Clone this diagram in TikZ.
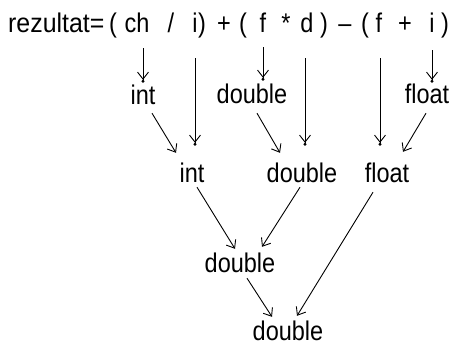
\documentclass[tikz,border=0pt]{standalone}
\usepackage{fontspec}
\setmainfont{Liberation Sans}
\usetikzlibrary{arrows.meta,calc}
\newcommand\tallt[1]{\scalebox{1}[1.15]{#1}}
\begin{document}
\begin{tikzpicture}[x=1pt,y=1pt,
  lbl/.style={font=\fontsize{23.5}{26}\selectfont, inner sep=0pt, text height=17pt, text depth=0pt, anchor=base},
  tok/.style={lbl, text depth=5pt},
  arr/.style={line width=0.9pt, -{Straight Barb[length=7pt,width=11pt]}},
  darr/.style={line width=0.9pt, -{Straight Barb[length=7pt,width=11pt] Circle[length=3pt,sep=-3pt]}}]
\useasboundingbox (0,0) rectangle (454,-345);
% top expression
\node[tok,anchor=base west] (lhs) at (8,-33) {\scalebox{1.06}[1.15]{rezultat=}};
\node[tok] (p1) at (113,-33) {\tallt{(}};
\node[tok] (ch) at (137,-33) {\tallt{ch}};
\node[tok] (div) at (171,-33) {\tallt{/}};
\node[tok] (i1) at (195,-33) {\tallt{i}};
\node[tok] (p2) at (202,-33) {\tallt{)}};
\node[tok] (plus1) at (224,-33) {\tallt{+}};
\node[tok] (p3) at (243,-33) {\tallt{(}};
\node[tok] (f1) at (263,-33) {\tallt{f}};
\node[tok] (mul) at (286,-33) {\tallt{*}};
\node[tok] (d) at (307,-33) {\tallt{d}};
\node[tok] (p4) at (324,-33) {\tallt{)}};
\node[tok] (minus) at (345,-33) {\tallt{–}};
\node[tok] (p5) at (365,-33) {\tallt{(}};
\node[tok] (f2) at (379,-33) {\tallt{f}};
\node[tok] (plus2) at (405,-33) {\tallt{+}};
\node[tok] (i2) at (432,-33) {\tallt{i}};
\node[tok] (p6) at (445,-33) {\tallt{)}};
% type labels
\node[lbl] (int1) at (143,-104) {\tallt{int}};
\node[lbl] (dbl1) at (252,-103) {\tallt{double}};
\node[lbl] (flt1) at (427,-103) {\tallt{float}};
\node[lbl] (int2) at (192,-182) {\tallt{int}};
\node[lbl] (dbl2) at (302,-182) {\tallt{double}};
\node[lbl] (flt2) at (387,-182) {\tallt{float}};
\node[lbl] (dbl3) at (240,-272) {\tallt{double}};
\node[lbl] (dbl4) at (288,-340) {\tallt{double}};
% vertical arrows
\draw[darr] ($(ch.south)+(6,-10)$) -- ($(int1.north)+(0,7)$);
\draw[darr] ($(i1.south)+(0,-20)$) -- ($(int2.north)+(3,22)$);
\draw[darr] ($(f1.south)+(0,-9)$) -- ($(dbl1.north)+(11,8)$);
\draw[darr] ($(d.south)+(-2,-20)$) -- ($(dbl2.north)+(3,22)$);
\draw[darr] ($(f2.south)+(1,-20)$) -- ($(flt2.north)+(-7,22)$);
\draw[darr] ($(i2.south)+(0,-12)$) -- ($(flt1.north)+(5,6)$);
% diagonal arrows
\draw[arr] ($(int1.south)+(9,-9)$) -- ($(int2.north)+(-16,12)$);
\draw[arr] ($(dbl1.south)+(5,-10)$) -- ($(dbl2.north)+(-22,12)$);
\draw[arr] ($(flt1.south)+(-1,-10)$) -- ($(flt2.north)+(16,13)$);
\draw[arr] ($(int2.south)+(5,-5)$) -- ($(dbl3.north)+(-5,6)$);
\draw[arr] ($(dbl2.south)+(-2,-5)$) -- ($(dbl3.north)+(22,8)$);
\draw[arr] ($(flt2.south)+(-14,-10)$) -- ($(dbl4.north)+(9,7)$);
\draw[arr] ($(dbl3.south)+(7,-6)$) -- ($(dbl4.north)+(-16,6)$);
\end{tikzpicture}
\end{document}
